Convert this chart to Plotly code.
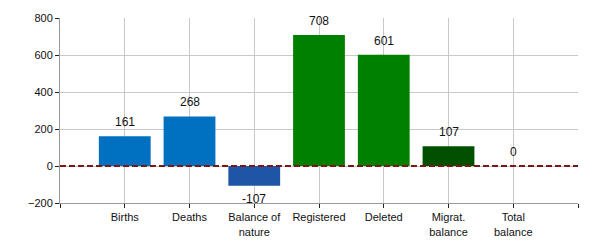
import plotly.graph_objects as go

categories = ["Births", "Deaths", "Balance of<br>nature", "Registered", "Deleted", "Migrat.<br>balance", "Total<br>balance"]
values = [161, 268, -107, 708, 601, 107, 0]
colors = ["#0070C0", "#0070C0", "#1F55A6", "#008000", "#008000", "#005000", "#005000"]
y_ticks = [-200, 0, 200, 400, 600, 800]

xs = list(range(1, len(categories) + 1))

fig = go.Figure()
fig.add_trace(go.Bar(x=xs, y=values, marker=dict(color=colors, line=dict(width=0)),
                     width=0.8, hoverinfo="skip"))

fig.add_shape(type="line", xref="paper", x0=0, x1=1, yref="y", y0=0, y1=0,
              line=dict(color="#7A1616", width=2, dash="6px,3px"))

for x, v in zip(xs, values):
    fig.add_annotation(x=x, y=v, text=str(v), showarrow=False,
                       yshift=14 if v >= 0 else -13,
                       font=dict(family="Liberation Sans, Arial", size=12, color="#111"))

fig.update_layout(
    width=600, height=250,
    margin=dict(l=60, r=22, t=15, b=46),
    plot_bgcolor="white", paper_bgcolor="white",
    showlegend=False,
    font=dict(family="Liberation Sans, Arial", size=11, color="#111"),
    xaxis=dict(range=[0, 8], tickvals=list(range(0, 9)),
               ticktext=[""] + categories + [""],
               showgrid=True, gridcolor="#C8C8C8", gridwidth=1,
               showline=True, linecolor="#999", linewidth=1,
               ticks="outside", ticklen=4, tickcolor="#222",
               zeroline=False, tickfont=dict(size=11)),
    yaxis=dict(range=[-200, 800], tickvals=y_ticks,
               showgrid=True, gridcolor="#C8C8C8", gridwidth=1,
               showline=True, linecolor="#999", linewidth=1,
               ticks="outside", ticklen=4, tickcolor="#222",
               zeroline=False, tickfont=dict(size=11)),
)

fig.write_html("out.html")
